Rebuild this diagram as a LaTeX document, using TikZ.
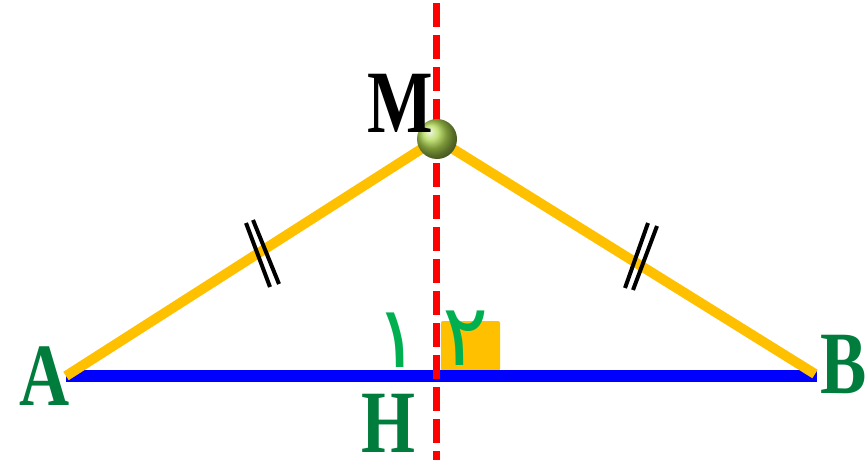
\documentclass[tikz,border=0pt]{standalone}
\usepackage{fontspec}
\usepackage{graphicx}
\setmainfont{Liberation Serif}
\newfontfamily\arabicfont[Script=Arabic]{DejaVu Sans}
\TeXXeTstate=1
\definecolor{segyellow}{RGB}{255,192,0}
\definecolor{lettergreen}{RGB}{0,125,60}
\definecolor{digitgreen}{RGB}{0,176,80}
\definecolor{ballgreen}{RGB}{175,215,80}
\tikzset{
  ptlabel/.style={anchor=base, inner sep=0pt, text depth=0pt, text=lettergreen, font=\fontsize{89}{89}\selectfont\bfseries},
  anglenum/.style={anchor=base, inner sep=0pt, text depth=0pt, text=digitgreen, font=\fontsize{86}{86}\selectfont\arabicfont},
  sideline/.style={segyellow, line width=10pt},
  baseline/.style={blue, line width=12pt},
  tickmark/.style={black, line width=4pt},
  axis/.style={red, line width=7.5pt, dash pattern=on 24pt off 8pt},
}
\begin{document}
\begin{tikzpicture}[x=1pt,y=-1pt]
\useasboundingbox (0,0) rectangle (866,460);
% points
\coordinate (A) at (66,376);
\coordinate (B) at (815,374);
\coordinate (M) at (437,139);
\coordinate (Abl) at (66,376);
\coordinate (Bbl) at (817,376);
\coordinate (Rtop) at (436.5,3);
\coordinate (Rbot) at (436.5,460);
% right-angle mark
\fill[segyellow, rounded corners=2pt] (441,321) rectangle (500,371);
% base AB
\draw[baseline] (Abl) -- (Bbl);
% equal sides
\draw[sideline] (A) -- (M) -- (B);
% tick marks
\coordinate (t1a) at (246,223); \coordinate (t1b) at (270,287);
\coordinate (t2a) at (253,220); \coordinate (t2b) at (279,284);
\coordinate (t3a) at (648,223); \coordinate (t3b) at (625,288);
\coordinate (t4a) at (657,226); \coordinate (t4b) at (633,290);
\draw[tickmark] (t1a) -- (t1b);
\draw[tickmark] (t2a) -- (t2b);
\draw[tickmark] (t3a) -- (t3b);
\draw[tickmark] (t4a) -- (t4b);
% perpendicular bisector
\draw[axis] (Rtop) -- (Rbot);
% angle numbers
\node[anglenum] (n1) at (398,367) {\beginR ١\endR};
\node[anglenum] (n2) at (466,365) {\beginR ٢\endR};
% point M
\shade[ball color=ballgreen] (M) circle (20pt);
% labels
\node[ptlabel, text=black] (lM) at (400,132) {\scalebox{0.78}[1]{M}};
\node[ptlabel] (lA) at (45,405) {\scalebox{0.78}[1]{A}};
\node[ptlabel] (lB) at (844,393) {\scalebox{0.78}[1]{B}};
\node[ptlabel] (lH) at (388,452) {\scalebox{0.78}[1]{H}};
\end{tikzpicture}
\end{document}
